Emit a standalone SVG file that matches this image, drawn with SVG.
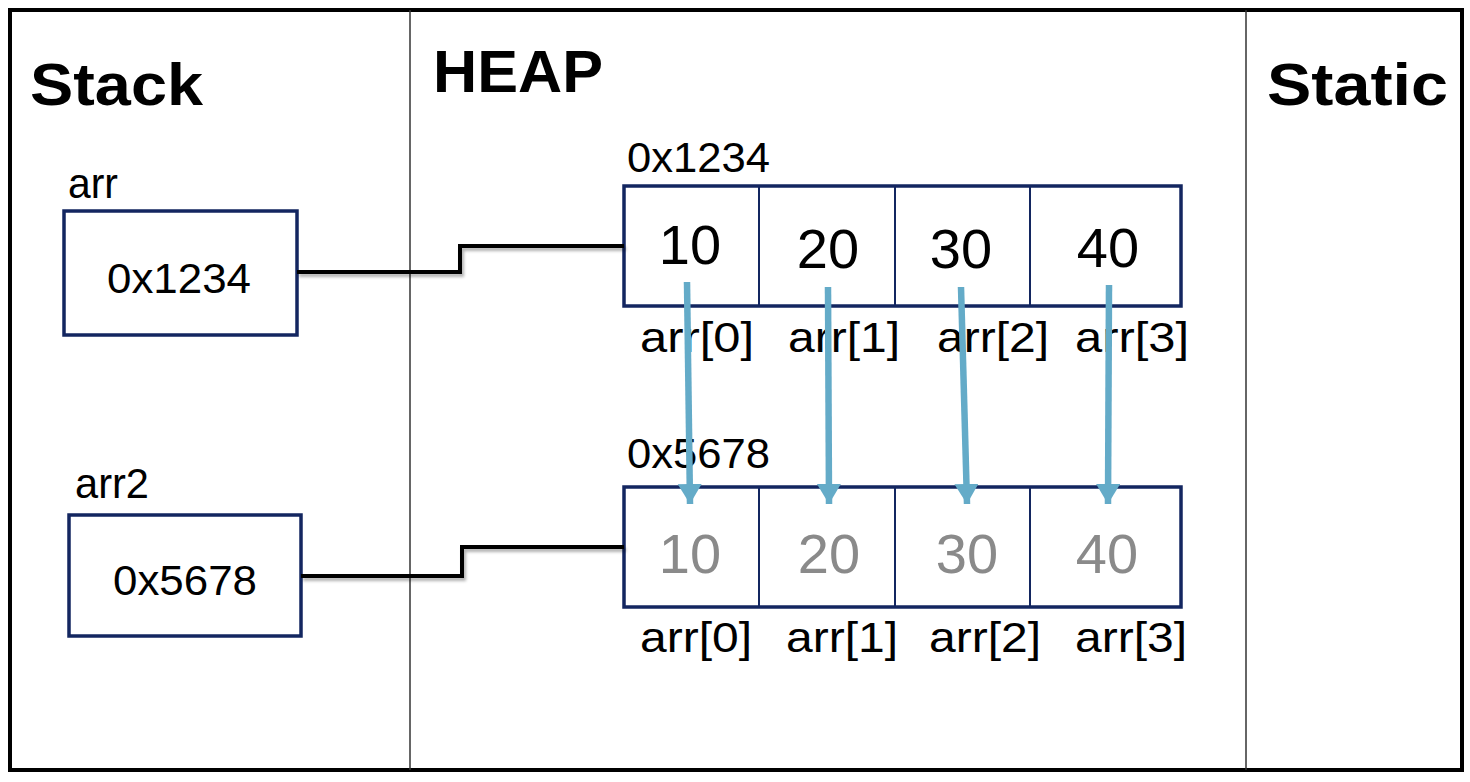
<svg xmlns="http://www.w3.org/2000/svg" width="1470" height="782" viewBox="0 0 1470 782">
<style>
.title{font-family:"Liberation Sans",Arial,sans-serif;font-weight:bold;font-size:60px;fill:#000}
.t{font-family:"Liberation Sans",Arial,sans-serif;font-size:42px;fill:#000}
.num{font-family:"Liberation Sans",Arial,sans-serif;font-size:56px;fill:#000;text-anchor:middle}
.gnum{font-family:"Liberation Sans",Arial,sans-serif;font-size:56px;fill:#8a8a8a;text-anchor:middle}
.box{fill:#fff;stroke:#132660;stroke-width:3.5}
.div{stroke:#132660;stroke-width:2}
.conn{fill:none;stroke:#000;stroke-width:4;filter:url(#sh)}
.copy{stroke:#64abc8;stroke-width:6.5;fill:none}
</style>
<defs>
<filter id="sh" x="-10%" y="-50%" width="120%" height="200%">
<feDropShadow dx="2" dy="3" stdDeviation="1.5" flood-color="#000" flood-opacity="0.3"/>
</filter>
<marker id="ah" markerUnits="userSpaceOnUse" markerWidth="26" markerHeight="26" refX="20" refY="12" orient="auto">
<path d="M0,0 L20,12 L0,24 Z" fill="#64abc8"/>
</marker>
</defs>
<rect width="1470" height="782" fill="#fff"/>
<g id="frame">
<rect x="10" y="10" width="1452" height="760" fill="none" stroke="#000" stroke-width="4"/>
<line x1="410" y1="10" x2="410" y2="770" stroke="#333" stroke-width="1.5"/>
<line x1="1246" y1="10" x2="1246" y2="770" stroke="#333" stroke-width="1.5"/>
<text class="title" x="30" y="105" textLength="173" lengthAdjust="spacingAndGlyphs">Stack</text>
<text class="title" x="433" y="92" textLength="170" lengthAdjust="spacingAndGlyphs">HEAP</text>
<text class="title" x="1267" y="105" textLength="181" lengthAdjust="spacingAndGlyphs">Static</text>
</g>
<g id="arr">
<text class="t" x="68" y="198" textLength="50" lengthAdjust="spacingAndGlyphs">arr</text>
<rect class="box" x="64" y="211" width="233" height="124"/>
<text class="t" x="107" y="293" textLength="144" lengthAdjust="spacingAndGlyphs">0x1234</text>
</g>
<g id="arr2">
<text class="t" x="75" y="498" textLength="74" lengthAdjust="spacingAndGlyphs">arr2</text>
<rect class="box" x="69" y="515" width="232" height="121"/>
<text class="t" x="113" y="595" textLength="144" lengthAdjust="spacingAndGlyphs">0x5678</text>
</g>
<g id="heap1">
<text class="t" x="627" y="172" textLength="143" lengthAdjust="spacingAndGlyphs">0x1234</text>
<rect class="box" x="624" y="186" width="557" height="120"/>
<line class="div" x1="759" y1="186" x2="759" y2="306"/>
<line class="div" x1="895" y1="186" x2="895" y2="306"/>
<line class="div" x1="1030" y1="186" x2="1030" y2="306"/>
<text class="num" x="690" y="264">10</text>
<text class="num" x="828" y="268">20</text>
<text class="num" x="961" y="268">30</text>
<text class="num" x="1108" y="267">40</text>
<text class="t" x="640" y="352" textLength="114" lengthAdjust="spacingAndGlyphs">arr[0]</text>
<text class="t" x="788" y="352" textLength="112" lengthAdjust="spacingAndGlyphs">arr[1]</text>
<text class="t" x="937" y="352" textLength="112" lengthAdjust="spacingAndGlyphs">arr[2]</text>
<text class="t" x="1075" y="352" textLength="114" lengthAdjust="spacingAndGlyphs">arr[3]</text>
</g>
<g id="heap2">
<text class="t" x="627" y="468" textLength="143" lengthAdjust="spacingAndGlyphs">0x5678</text>
<rect class="box" x="624" y="487" width="557" height="120"/>
<line class="div" x1="759" y1="487" x2="759" y2="607"/>
<line class="div" x1="895" y1="487" x2="895" y2="607"/>
<line class="div" x1="1030" y1="487" x2="1030" y2="607"/>
<text class="gnum" x="690" y="573">10</text>
<text class="gnum" x="829" y="573">20</text>
<text class="gnum" x="967" y="573">30</text>
<text class="gnum" x="1107" y="573">40</text>
<text class="t" x="640" y="652" textLength="112" lengthAdjust="spacingAndGlyphs">arr[0]</text>
<text class="t" x="786" y="652" textLength="112" lengthAdjust="spacingAndGlyphs">arr[1]</text>
<text class="t" x="929" y="652" textLength="112" lengthAdjust="spacingAndGlyphs">arr[2]</text>
<text class="t" x="1075" y="652" textLength="112" lengthAdjust="spacingAndGlyphs">arr[3]</text>
</g>
<g id="connectors">
<path class="conn" d="M297,272 H460 V246 H624"/>
<path class="conn" d="M301,576 H462 V547 H624"/>
<line class="copy" x1="687" y1="282" x2="690" y2="504" marker-end="url(#ah)"/>
<line class="copy" x1="828" y1="287" x2="829" y2="504" marker-end="url(#ah)"/>
<line class="copy" x1="961" y1="287" x2="967" y2="504" marker-end="url(#ah)"/>
<line class="copy" x1="1109" y1="285" x2="1108" y2="504" marker-end="url(#ah)"/>
</g>
</svg>
